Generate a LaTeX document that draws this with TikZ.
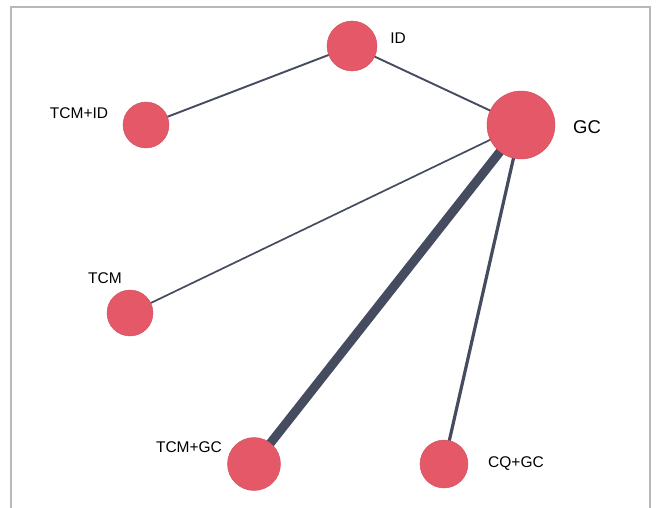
\documentclass[tikz,border=0pt]{standalone}
\usepackage{fontspec}
\setmainfont{Liberation Sans}
\usetikzlibrary{backgrounds}
\definecolor{nodered}{HTML}{E55868}
\definecolor{edgecol}{HTML}{464C60}
\definecolor{framecol}{HTML}{B8B8B8}
\begin{document}
\begin{tikzpicture}[x=1pt,y=-1pt,
  treat/.style={circle,fill=nodered,draw=nodered!90!black,line width=0.4pt,inner sep=0pt,minimum size=#1},
  lbl/.style={font=\fontsize{15.5}{18}\selectfont,text=black,inner sep=0pt},
  edge/.style={draw=edgecol,line width=#1}]
\useasboundingbox (0,0) rectangle (656,508);
\draw[framecol,line width=1.4pt] (11,508) -- (11,7) -- (650,7) -- (650,508);
\node[treat=50pt] (id) at (352,46) {};
\node[treat=46pt] (tcmid) at (146,125) {};
\node[treat=68pt] (gc) at (521,125) {};
\node[treat=46pt] (tcm) at (130,313) {};
\node[treat=53pt] (tcmgc) at (254,464) {};
\node[treat=48pt] (cqgc) at (444,464) {};
\node[lbl] (lid) at (398,38) {ID};
\node[lbl] (ltcmid) at (79,113) {TCM+ID};
\node[lbl,font=\fontsize{18.5}{22}\selectfont] (lgc) at (587,127) {GC};
\node[lbl] (ltcm) at (105,278) {TCM};
\node[lbl] (ltcmgc) at (189,447) {TCM+GC};
\node[lbl] (lcqgc) at (516,464) {CQ+GC};
\begin{pgfonlayer}{background}
\fill[white] (0,0) rectangle (656,508);
\draw[edge=1.9pt] (id.center) -- (tcmid.center);
\draw[edge=1.9pt] (id.center) -- (gc.center);
\draw[edge=1.7pt] (gc.center) -- (tcm.center);
\draw[edge=9pt] (gc.center) -- (tcmgc.center);
\draw[edge=3.2pt] (gc.center) -- (cqgc.center);
\end{pgfonlayer}
\end{tikzpicture}
\end{document}
